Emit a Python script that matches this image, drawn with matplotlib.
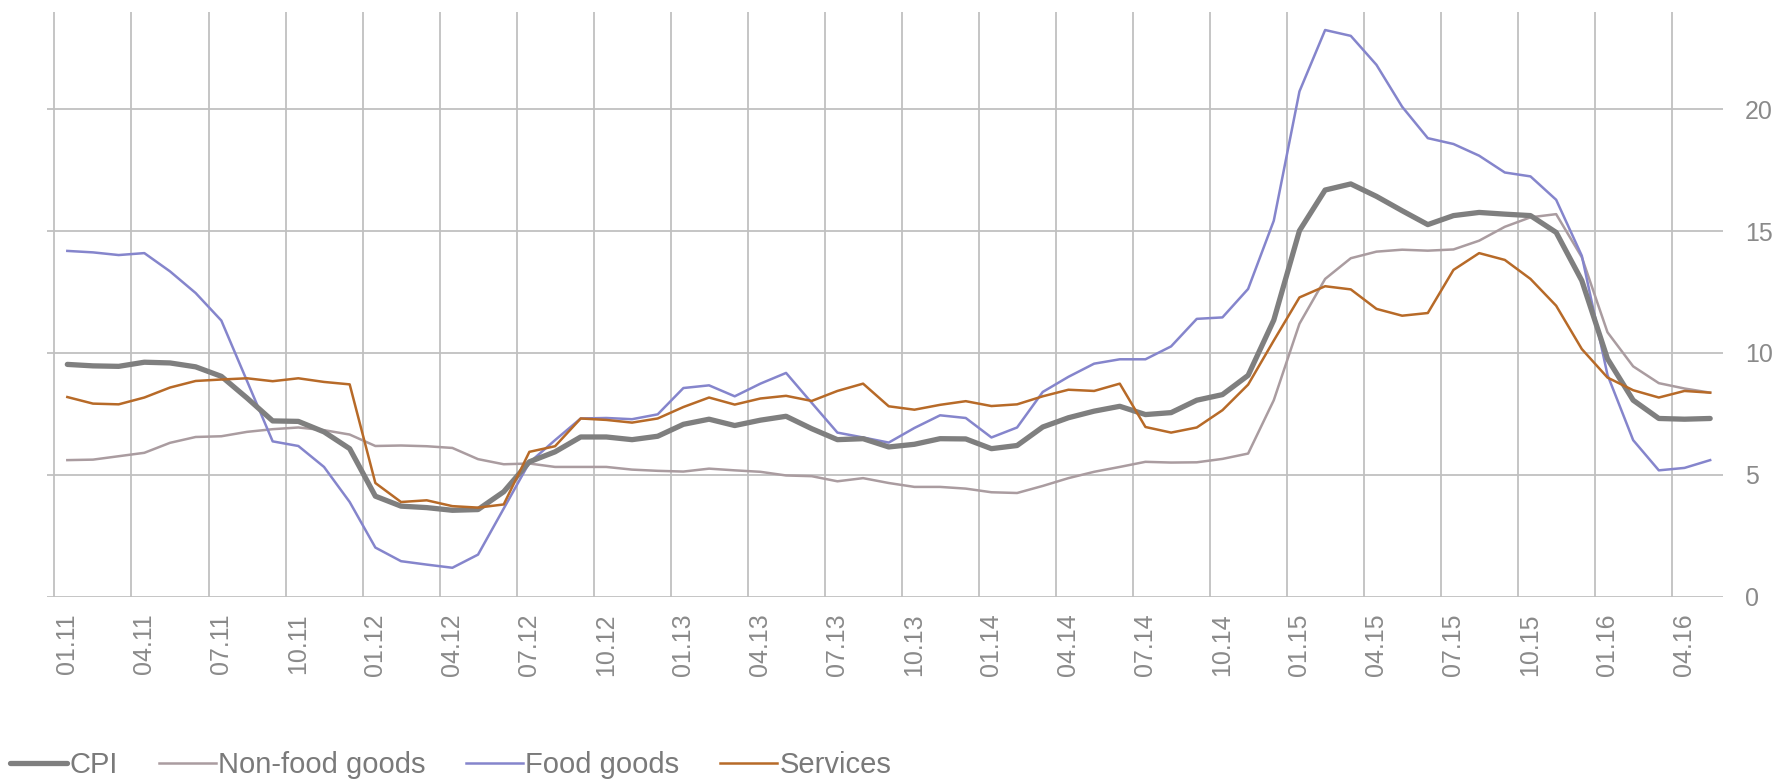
import matplotlib
matplotlib.use("Agg")
import matplotlib.pyplot as plt
import numpy as np

plt.rcParams['font.family'] = ['Liberation Sans', 'DejaVu Sans']

# Monthly, 01.11 .. 05.16
tick_labels = ["01.11", "04.11", "07.11", "10.11", "01.12", "04.12", "07.12", "10.12",
               "01.13", "04.13", "07.13", "10.13", "01.14", "04.14", "07.14", "10.14",
               "01.15", "04.15", "07.15", "10.15", "01.16", "04.16"]

cpi = [9.53, 9.47, 9.45, 9.62, 9.59, 9.43, 9.04, 8.15, 7.21, 7.19,
       6.76, 6.07, 4.12, 3.71, 3.65, 3.54, 3.57, 4.30, 5.53, 5.94,
       6.55, 6.55, 6.44, 6.58, 7.07, 7.28, 7.02, 7.24, 7.40, 6.89,
       6.44, 6.48, 6.14, 6.25, 6.48, 6.47, 6.07, 6.20, 6.96, 7.34,
       7.61, 7.81, 7.47, 7.55, 8.06, 8.29, 9.08, 11.35, 15.02, 16.69,
       16.94, 16.43, 15.84, 15.27, 15.64, 15.77, 15.70, 15.64, 14.95, 12.97,
       9.76, 8.06, 7.31, 7.28, 7.31]

non_food = [5.60, 5.62, 5.76, 5.90, 6.31, 6.55, 6.58, 6.76, 6.87, 6.94,
            6.83, 6.65, 6.18, 6.20, 6.17, 6.10, 5.64, 5.43, 5.46, 5.32,
            5.32, 5.32, 5.21, 5.16, 5.13, 5.25, 5.18, 5.12, 4.97, 4.94,
            4.73, 4.86, 4.66, 4.50, 4.50, 4.43, 4.28, 4.25, 4.54, 4.86,
            5.12, 5.32, 5.53, 5.50, 5.51, 5.65, 5.87, 8.06, 11.20, 13.04,
            13.89, 14.16, 14.24, 14.20, 14.25, 14.61, 15.18, 15.57, 15.70, 13.93,
            10.85, 9.45, 8.76, 8.54, 8.37]

food = [14.19, 14.13, 14.02, 14.10, 13.35, 12.46, 11.33, 8.85, 6.37, 6.18,
        5.32, 3.88, 2.01, 1.45, 1.31, 1.18, 1.72, 3.61, 5.50, 6.42,
        7.31, 7.33, 7.28, 7.48, 8.56, 8.67, 8.22, 8.74, 9.18, 7.95,
        6.73, 6.53, 6.32, 6.92, 7.44, 7.33, 6.53, 6.94, 8.40, 9.02,
        9.56, 9.74, 9.74, 10.27, 11.40, 11.46, 12.63, 15.43, 20.74, 23.26,
        23.02, 21.83, 20.11, 18.82, 18.58, 18.10, 17.41, 17.25, 16.29, 13.99,
        9.10, 6.42, 5.18, 5.28, 5.60]

services = [8.19, 7.92, 7.89, 8.17, 8.58, 8.85, 8.91, 8.96, 8.84, 8.96,
            8.81, 8.71, 4.66, 3.88, 3.95, 3.71, 3.65, 3.78, 5.94, 6.17,
            7.31, 7.25, 7.14, 7.31, 7.78, 8.17, 7.88, 8.13, 8.24, 8.03,
            8.44, 8.74, 7.81, 7.67, 7.87, 8.02, 7.82, 7.89, 8.22, 8.49,
            8.44, 8.74, 6.96, 6.73, 6.94, 7.65, 8.70, 10.51, 12.28, 12.74,
            12.61, 11.81, 11.53, 11.64, 13.41, 14.10, 13.82, 13.04, 11.94, 10.16,
            8.99, 8.47, 8.17, 8.44, 8.37]

series_names = ["CPI", "Non-food goods", "Food goods", "Services"]
y_ticks = [0, 5, 10, 15, 20]

fig = plt.figure(figsize=(17.77, 7.79), dpi=100)
ax = fig.add_axes([47.3 / 1777, 1 - 596.5 / 779, (1723 - 47.3) / 1777, (596.5 - 12) / 779])

n = len(cpi)
x = np.arange(n)

grid_c = "#c0c0c0"
label_c = "#8a8a8a"

ax.plot(x, cpi, color="#7f7f7f", lw=3.8, solid_capstyle="round", solid_joinstyle="round",
        label=series_names[0], zorder=5)
ax.plot(x, non_food, color="#aa9ca0", lw=1.8, solid_joinstyle="round", label=series_names[1], zorder=3)
ax.plot(x, food, color="#8585cc", lw=1.8, solid_joinstyle="round", label=series_names[2], zorder=4)
ax.plot(x, services, color="#b76a28", lw=1.8, solid_joinstyle="round", label=series_names[3], zorder=6)

ax.set_xlim(-0.78, n - 0.5)
ax.set_ylim(0, 24)

major_x = np.arange(0, n, 3)
ax.set_xticks(major_x)
ax.set_xticklabels(tick_labels, rotation=90, fontsize=18, color=label_c)
ax.set_xticks(major_x - 0.5, minor=True)
ax.tick_params(axis="x", which="both", length=0, pad=12)

ax.yaxis.tick_right()
ax.set_yticks(y_ticks)
ax.set_yticklabels([str(v) for v in y_ticks], fontsize=18, color=label_c)
ax.tick_params(axis="y", length=0, pad=16)

ax.grid(True, axis="y", which="major", color=grid_c, lw=1.3, zorder=0)
ax.grid(True, axis="x", which="minor", color=grid_c, lw=1.3, zorder=0)
ax.grid(False, axis="x", which="major")
for s in ax.spines.values():
    s.set_visible(False)

leg = fig.legend(loc="lower left", bbox_to_anchor=(0.0025, -0.008), ncol=4, frameon=False,
                 fontsize=21, handlelength=1.95, handletextpad=0.08, columnspacing=1.4,
                 borderaxespad=0.0, borderpad=0.2)
for t in leg.get_texts():
    t.set_color("#7a7a7a")

fig.savefig("out.png", dpi=100)
